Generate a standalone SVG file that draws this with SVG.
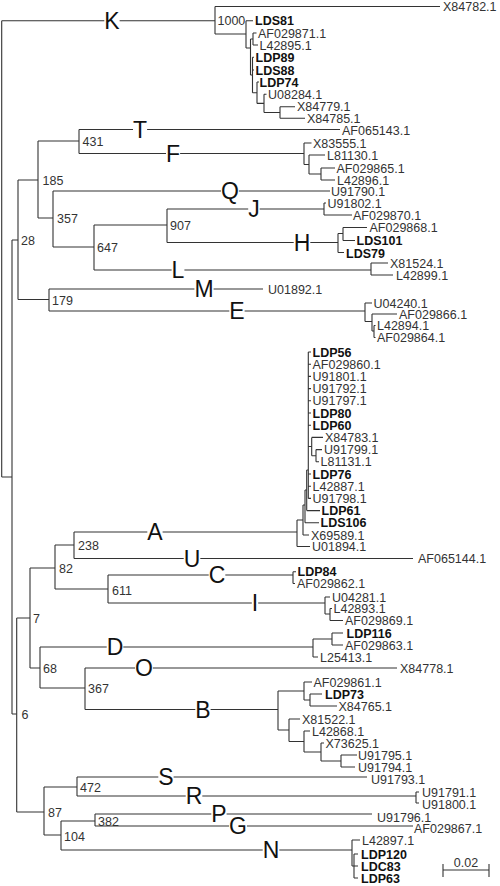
<svg xmlns="http://www.w3.org/2000/svg" width="500" height="886" viewBox="0 0 500 886">
<style>
.br{stroke:#333;stroke-width:1.1;fill:none}
text{font-family:"Liberation Sans",Arial,sans-serif;font-size:12.5px;fill:#333}
.b{font-weight:bold;fill:#111}
.cl{font-size:23px;fill:#111;text-anchor:middle}
.bg{fill:#fff}
</style>
<rect width="500" height="886" fill="#fff"/>
<g id="connectors" class="br">
<path d="M1.7,20.7V477M1.7,20.7H215M1.7,477H12"/>
<path d="M215,6.5V34M215,6.5H440M215,34H246"/>
<path d="M246,20.7V48M246,20.7H253M246,48H250.5"/>
<path d="M250.5,39V75M250.5,39H253M250.5,75H252.5"/>
<path d="M253,33V45M253,33H256.5M253,45H258"/>
<path d="M252.5,57.3V92.7M252.5,57.3H254M252.5,70H254M252.5,92.7H257"/>
<path d="M257,82V103.4M257,82H259M257,103.4H264"/>
<path d="M264,94.3V112.5M264,94.3H266.5M264,112.5H280"/>
<path d="M280,106.7V118.3M280,106.7H295M280,118.3H305"/>
<path d="M12,240V714M12,240H18M12,714H16.7"/>
<path d="M18,180V299.5M18,180H38M18,299.5H49"/>
<path d="M38,141V218M38,141H79M38,218H53"/>
<path d="M79,129.5V153.5M79,129.5H340M79,153.5H304"/>
<path d="M304,143V164.5M304,143H311.5M304,164.5H309"/>
<path d="M309,155V174M309,155H325M309,174H321"/>
<path d="M321,168V180M321,168H335M321,180H335"/>
<path d="M53,191V247M53,191H330M53,247H94"/>
<path d="M94,225V270M94,225H167M94,270H371"/>
<path d="M167,209V242.5M167,209H324M167,242.5H338"/>
<path d="M324,203V215M324,203H326M324,215H352"/>
<path d="M338,233.5V252.5M338,233.5H343M338,252.5H344"/>
<path d="M343,227.5V240.5M343,227.5H367M343,240.5H355"/>
<path d="M371,263V275M371,263H388M371,275H393"/>
<path d="M49,289V311M49,289H263M49,311H365"/>
<path d="M365,303V321.5M365,303H372M365,321.5H372"/>
<path d="M372,314V331M372,314H397M372,331H374"/>
<path d="M374,325.5V337.5M374,325.5H375.5M374,337.5H375.5"/>
<path d="M16.7,618V812M16.7,618H30M16.7,812H44"/>
<path d="M30,568V668M30,568H55M30,668H40"/>
<path d="M55,545V589M55,545H74M55,589H108"/>
<path d="M74,532V558.5M74,532H297M74,558.5H413"/>
<path d="M297,520V546.5M297,520H303M297,546.5H310"/>
<path d="M303,505V535M303,505H305M303,535H309"/>
<path d="M305,490V522.8M305,490H306.7M305,522.8H319"/>
<path d="M306.7,470V510.6M306.7,470H308.3M306.7,510.6H320"/>
<path d="M308.3,352V498.4M308.3,352H311M308.3,364.2H311M308.3,376.4H311M308.3,388.6H311M308.3,400.8H311M308.3,413H311M308.3,425.2H311M308.3,446.5H311.7M308.3,474H311M308.3,486.2H311M308.3,498.4H311"/>
<path d="M311.7,437.4V455.7M311.7,437.4H323M311.7,455.7H316"/>
<path d="M316,449.6V461.8M316,449.6H322M316,461.8H319"/>
<path d="M108,575V603M108,575H293M108,603H325"/>
<path d="M293,571.7V583.5M293,571.7H296M293,583.5H295"/>
<path d="M325,597V614M325,597H330M325,614H330"/>
<path d="M330,608.5V620.5M330,608.5H332M330,620.5H343"/>
<path d="M40,647V688M40,647H313M40,688H85"/>
<path d="M313,639V657M313,639H332M313,657H318"/>
<path d="M332,633V645M332,633H343M332,645H343"/>
<path d="M85,668V709.5M85,668H397M85,709.5H278"/>
<path d="M278,691V730M278,691H304M278,730H289"/>
<path d="M304,682V700M304,682H312M304,700H310"/>
<path d="M310,694V706M310,694H322M310,706H337"/>
<path d="M289,719V741.5M289,719H300M289,741.5H304"/>
<path d="M304,731V752M304,731H310M304,752H321"/>
<path d="M321,743V761M321,743H324M321,761H341"/>
<path d="M341,755V767M341,755H357M341,767H355"/>
<path d="M44,787V835M44,787H77M44,835H61"/>
<path d="M77,777V796M77,777H367M77,796H416"/>
<path d="M416,792V803M416,792H419M416,803H419"/>
<path d="M61,821V850M61,821H95M61,850H352"/>
<path d="M95,814V826M95,814H372M95,826H413"/>
<path d="M352,840V866M352,840H360M352,866H354"/>
<path d="M354,854V878M354,854H358M354,866H358M354,878H358"/>
<path d="M443,870H489M443,864V877M489,864V877"/>
</g>
<g id="bootstrap">
<text x="217.5" y="25.2">1000</text>
<text x="21" y="244.5">28</text>
<text x="42.5" y="185.2">185</text>
<text x="82.5" y="145.5">431</text>
<text x="57" y="223">357</text>
<text x="97" y="252">647</text>
<text x="170" y="230">907</text>
<text x="52" y="305">179</text>
<text x="21.5" y="719">6</text>
<text x="33" y="622.5">7</text>
<text x="59" y="572.5">82</text>
<text x="78" y="550">238</text>
<text x="112" y="595">611</text>
<text x="43" y="672.5">68</text>
<text x="88" y="693">367</text>
<text x="48" y="816.5">87</text>
<text x="80" y="791.5">472</text>
<text x="64" y="841">104</text>
<text x="98" y="825.5">382</text>
</g>
<g id="clade-K">
<rect class="bg" x="104.3" y="18.7" width="15.3" height="4"/><text class="cl" x="112" y="28.9">K</text>
<text x="443" y="11.2">X84782.1</text>
<text class="b" x="255" y="25.2">LDS81</text>
<text x="258" y="37.5">AF029871.1</text>
<text x="259.5" y="49.5">L42895.1</text>
<text class="b" x="255.5" y="61.8">LDP89</text>
<text class="b" x="255.5" y="74.5">LDS88</text>
<text class="b" x="259.5" y="86.5">LDP74</text>
<text x="268" y="98.8">U08284.1</text>
<text x="297" y="111.2">X84779.1</text>
<text x="307" y="122.8">X84785.1</text>
</g>
<g id="clade-T">
<rect class="bg" x="133" y="127.5" width="14.1" height="4"/><text class="cl" x="140" y="137.7">T</text>
<text x="342" y="135">AF065143.1</text>
</g>
<g id="clade-F">
<rect class="bg" x="166" y="151.5" width="14.1" height="4"/><text class="cl" x="173" y="161.7">F</text>
<text x="313" y="147.5">X83555.1</text>
<text x="327" y="159.5">L81130.1</text>
<text x="336.5" y="172.5">AF029865.1</text>
<text x="337" y="184.5">L42896.1</text>
</g>
<g id="clade-Q">
<rect class="bg" x="221" y="189" width="17.9" height="4"/><text class="cl" x="230" y="199.2">Q</text>
<text x="331" y="196">U91790.1</text>
</g>
<g id="clade-J">
<rect class="bg" x="248.2" y="207" width="11.5" height="4"/><text class="cl" x="254" y="217.2">J</text>
<text x="327.5" y="207.5">U91802.1</text>
<text x="353" y="220">AF029870.1</text>
</g>
<g id="clade-H">
<rect class="bg" x="293.7" y="240.5" width="16.6" height="4"/><text class="cl" x="302" y="250.7">H</text>
<text x="369.5" y="232">AF029868.1</text>
<text class="b" x="356.5" y="245">LDS101</text>
<text class="b" x="346" y="257.5">LDS79</text>
</g>
<g id="clade-L">
<rect class="bg" x="171.6" y="268" width="12.8" height="4"/><text class="cl" x="178" y="278.2">L</text>
<text x="390" y="267.5">X81524.1</text>
<text x="396" y="279.5">L42899.1</text>
</g>
<g id="clade-M">
<rect class="bg" x="194.4" y="287" width="19.2" height="4"/><text class="cl" x="204" y="297.2">M</text>
<text x="268" y="294">U01892.1</text>
</g>
<g id="clade-E">
<rect class="bg" x="229.3" y="309" width="15.3" height="4"/><text class="cl" x="237" y="319.2">E</text>
<text x="373.5" y="307.5">U04240.1</text>
<text x="399" y="318.5">AF029866.1</text>
<text x="377" y="330">L42894.1</text>
<text x="377" y="342">AF029864.1</text>
</g>
<g id="clade-A">
<rect class="bg" x="147.3" y="530" width="15.3" height="4"/><text class="cl" x="155" y="540.2">A</text>
<text class="b" x="312.5" y="356.5">LDP56</text>
<text x="312.5" y="368.7">AF029860.1</text>
<text x="312.5" y="380.9">U91801.1</text>
<text x="312.5" y="393.1">U91792.1</text>
<text x="312.5" y="405.3">U91797.1</text>
<text class="b" x="312.5" y="417.5">LDP80</text>
<text class="b" x="312.5" y="429.7">LDP60</text>
<text x="325" y="441.9">X84783.1</text>
<text x="324" y="454.1">U91799.1</text>
<text x="320.5" y="466.3">L81131.1</text>
<text class="b" x="312.5" y="478.5">LDP76</text>
<text x="312.5" y="490.7">L42887.1</text>
<text x="312.5" y="502.9">U91798.1</text>
<text class="b" x="321.5" y="515.1">LDP61</text>
<text class="b" x="320.5" y="527.3">LDS106</text>
<text x="311" y="539.5">X69589.1</text>
<text x="312" y="551">U01894.1</text>
</g>
<g id="clade-U">
<rect class="bg" x="183.7" y="556.5" width="16.6" height="4"/><text class="cl" x="192" y="566.7">U</text>
<text x="418" y="563">AF065144.1</text>
</g>
<g id="clade-C">
<rect class="bg" x="208.7" y="573" width="16.6" height="4"/><text class="cl" x="217" y="583.2">C</text>
<text class="b" x="297.5" y="576.2">LDP84</text>
<text x="297" y="588">AF029862.1</text>
</g>
<g id="clade-I">
<rect class="bg" x="251.8" y="601" width="6.4" height="4"/><text class="cl" x="255" y="611.2">I</text>
<text x="332" y="601.5">U04281.1</text>
<text x="333.5" y="613">L42893.1</text>
<text x="345" y="625">AF029869.1</text>
</g>
<g id="clade-D">
<rect class="bg" x="106.7" y="645" width="16.6" height="4"/><text class="cl" x="115" y="655.2">D</text>
<text class="b" x="346.5" y="637.5">LDP116</text>
<text x="345" y="649.5">AF029863.1</text>
<text x="320" y="661.5">L25413.1</text>
</g>
<g id="clade-O">
<rect class="bg" x="135" y="666" width="17.9" height="4"/><text class="cl" x="144" y="676.2">O</text>
<text x="400" y="673">X84778.1</text>
</g>
<g id="clade-B">
<rect class="bg" x="195.3" y="707.5" width="15.3" height="4"/><text class="cl" x="203" y="717.7">B</text>
<text x="313.5" y="686.5">AF029861.1</text>
<text class="b" x="325" y="698.5">LDP73</text>
<text x="338.5" y="710.5">X84765.1</text>
<text x="302" y="723.5">X81522.1</text>
<text x="312" y="735.5">L42868.1</text>
<text x="325.5" y="747.5">X73625.1</text>
<text x="358" y="759.5">U91795.1</text>
<text x="358" y="771.5">U91794.1</text>
</g>
<g id="clade-S">
<rect class="bg" x="158.3" y="775" width="15.3" height="4"/><text class="cl" x="166" y="785.2">S</text>
<text x="371" y="784">U91793.1</text>
</g>
<g id="clade-R">
<rect class="bg" x="185.7" y="794" width="16.6" height="4"/><text class="cl" x="194" y="804.2">R</text>
<text x="422" y="796.5">U91791.1</text>
<text x="422" y="808.5">U91800.1</text>
</g>
<g id="clade-P">
<rect class="bg" x="211.3" y="812" width="15.3" height="4"/><text class="cl" x="219" y="822.2">P</text>
<text x="377" y="822">U91796.1</text>
</g>
<g id="clade-G">
<rect class="bg" x="229" y="824" width="17.9" height="4"/><text class="cl" x="238" y="834.2">G</text>
<text x="414" y="833">AF029867.1</text>
</g>
<g id="clade-N">
<rect class="bg" x="262.7" y="848" width="16.6" height="4"/><text class="cl" x="271" y="858.2">N</text>
<text x="362" y="844.5">L42897.1</text>
<text class="b" x="361" y="858.5">LDP120</text>
<text class="b" x="361" y="870.5">LDC83</text>
<text class="b" x="361" y="882.5">LDP63</text>
</g>
<g id="scale">
<text x="466" y="867" text-anchor="middle">0.02</text>
</g>
</svg>
